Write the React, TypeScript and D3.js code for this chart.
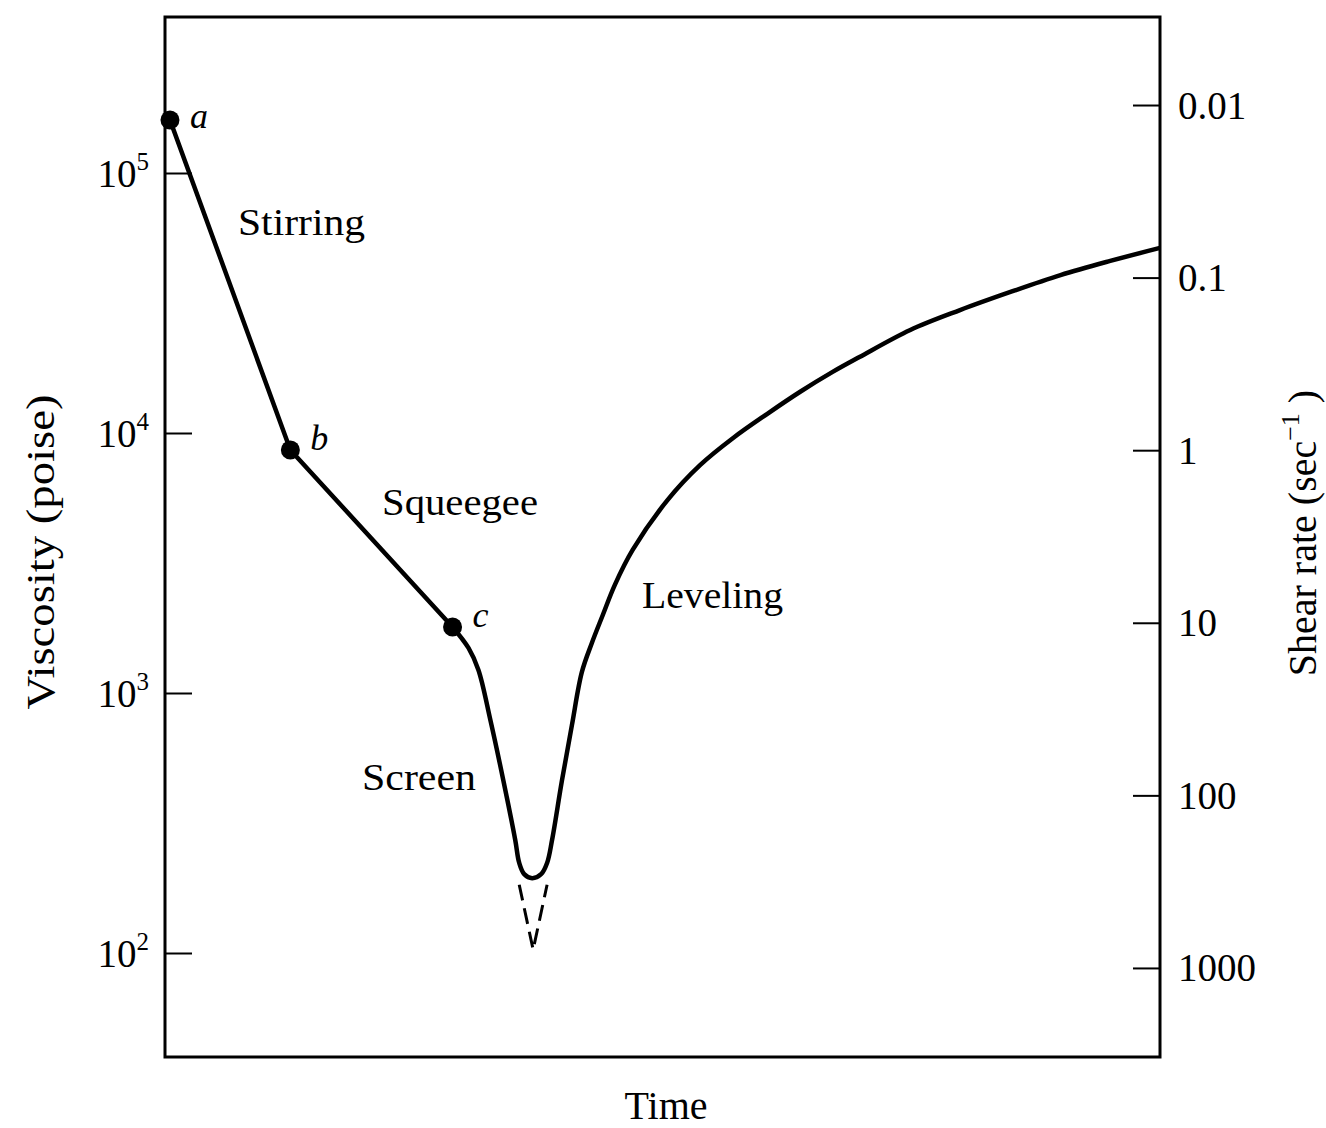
import React, { useEffect, useRef } from 'react';
import * as d3 from 'd3';

// viscosity curve (time in arbitrary units 0-100, viscosity in poise)
const curveTime = [
  0.5, 12.6, 28.9, 30.5, 31.5, 32.7, 34.0, 35.2, 35.6, 36.1, 36.9, 37.8, 38.4, 38.9, 39.9, 40.9,
  41.9, 42.9, 44.0, 45.2, 47.0, 50.5, 53.8, 57.1, 60.5, 63.8, 67.1, 69.8, 74.9, 79.9, 84.9, 90.0,
  95.0, 100,
];
const curveViscosity = [
  160000, 8600, 1795, 1490, 1226, 787, 462, 272, 222, 201, 194, 201, 222, 272, 462, 754, 1205, 1557,
  1995, 2600, 3550, 5520, 7540, 9570, 11830, 14380, 17180, 19600, 24900, 29700, 34800, 40500, 45900,
  51500,
];

// marked points a, b, c (indices into the curve)
const pointNames = ['a', 'b', 'c'];
const pointIndex = [0, 1, 2];

// dashed extension below the minimum
const dashTime = [35.6, 37.0, 38.4];
const dashViscosity = [183, 103, 183];

// axis ticks
const viscosityTicks = [100, 1000, 10000, 100000];
const viscosityExp = ['2', '3', '4', '5'];
const shearTicks = [0.01, 0.1, 1, 10, 100, 1000];
const shearLabels = ['0.01', '0.1', '1', '10', '100', '1000'];

const App = () => {
  const svgRef = useRef(null);

  useEffect(() => {
    const svg = d3.select(svgRef.current);
    svg.selectAll('*').remove();
    const width = 1326;
    const height = 1128;
    const left = 165;
    const right = 1160;
    const top = 17;
    const bottom = 1057;
    const font = '"Liberation Serif", "Times New Roman", serif';

    svg.attr('width', width).attr('height', height);

    const x = d3.scaleLinear().domain([0, 100]).range([left, right]);
    const y = d3
      .scaleLog()
      .domain([Math.pow(10, 1.6), Math.pow(10, 5.6)])
      .range([bottom, top]);
    const y2 = d3
      .scaleLog()
      .domain([Math.pow(10, -2.51), Math.pow(10, 3.516)])
      .range([top, bottom]);

    // frame
    svg
      .append('rect')
      .attr('x', left)
      .attr('y', top)
      .attr('width', right - left)
      .attr('height', bottom - top)
      .attr('fill', 'none')
      .attr('stroke', '#000')
      .attr('stroke-width', 3);

    // left axis (viscosity)
    const gl = svg
      .append('g')
      .attr('transform', `translate(${left},0)`)
      .call(d3.axisLeft(y).tickValues(viscosityTicks).tickSize(-27).tickPadding(16).tickFormat(() => ''));
    gl.select('.domain').remove();
    gl.selectAll('.tick line').attr('stroke', '#000').attr('stroke-width', 2);
    gl.selectAll('.tick text').each(function (d, i) {
      const t = d3.select(this);
      t.attr('font-family', font).attr('font-size', 39).attr('fill', '#000').attr('dy', 13);
      t.append('tspan').text('10');
      t.append('tspan').attr('font-size', 25).attr('dy', -17).text(viscosityExp[i]);
    });

    // right axis (shear rate)
    const gr = svg
      .append('g')
      .attr('transform', `translate(${right},0)`)
      .call(
        d3
          .axisRight(y2)
          .tickValues(shearTicks)
          .tickSize(-27)
          .tickPadding(18)
          .tickFormat((d, i) => shearLabels[i])
      );
    gr.select('.domain').remove();
    gr.selectAll('.tick line').attr('stroke', '#000').attr('stroke-width', 2);
    gr.selectAll('.tick text')
      .attr('font-family', font)
      .attr('font-size', 39)
      .attr('fill', '#000')
      .attr('dy', 13);

    // viscosity curve: straight stirring and squeegee legs, smooth after c
    const pts = curveTime.map((t, i) => [t, curveViscosity[i]]);
    const lineStraight = d3
      .line()
      .x((d) => x(d[0]))
      .y((d) => y(d[1]));
    const lineSmooth = d3
      .line()
      .x((d) => x(d[0]))
      .y((d) => y(d[1]))
      .curve(d3.curveCatmullRom.alpha(0.5));
    svg
      .append('path')
      .datum(pts.slice(0, 3))
      .attr('d', lineStraight)
      .attr('fill', 'none')
      .attr('stroke', '#000')
      .attr('stroke-width', 4.5)
      .attr('stroke-linejoin', 'round');
    svg
      .append('path')
      .datum(pts.slice(2))
      .attr('d', lineSmooth)
      .attr('fill', 'none')
      .attr('stroke', '#000')
      .attr('stroke-width', 4.5)
      .attr('stroke-linejoin', 'round');

    // dashed extension
    svg
      .append('path')
      .datum(dashTime.map((t, i) => [t, dashViscosity[i]]))
      .attr('d', lineStraight)
      .attr('fill', 'none')
      .attr('stroke', '#000')
      .attr('stroke-width', 3)
      .attr('stroke-dasharray', '16 8');

    // points a, b, c
    const g = svg.append('g');
    g.selectAll('circle')
      .data(pointIndex)
      .enter()
      .append('circle')
      .attr('cx', (d) => x(curveTime[d]))
      .attr('cy', (d) => y(curveViscosity[d]))
      .attr('r', 9.5)
      .attr('fill', '#000');
    g.selectAll('text')
      .data(pointIndex)
      .enter()
      .append('text')
      .attr('x', (d) => x(curveTime[d]) + 20)
      .attr('y', (d, i) => y(curveViscosity[d]) + (i === 0 ? 8 : 0))
      .attr('font-family', font)
      .attr('font-style', 'italic')
      .attr('font-size', 36)
      .text((d, i) => pointNames[i]);

    // phase labels
    const phases = [
      { text: 'Stirring', x: 238, y: 235, w: 127 },
      { text: 'Squeegee', x: 382, y: 515, w: 156 },
      { text: 'Screen', x: 362, y: 790, w: 114 },
      { text: 'Leveling', x: 642, y: 608, w: 141 },
    ];
    svg
      .append('g')
      .selectAll('text')
      .data(phases)
      .enter()
      .append('text')
      .attr('x', (d) => d.x)
      .attr('y', (d) => d.y)
      .attr('textLength', (d) => d.w)
      .attr('lengthAdjust', 'spacingAndGlyphs')
      .attr('font-family', font)
      .attr('font-size', 38)
      .text((d) => d.text);

    // axis titles
    svg
      .append('text')
      .attr('x', 666)
      .attr('y', 1119)
      .attr('text-anchor', 'middle')
      .attr('font-family', font)
      .attr('font-size', 40)
      .text('Time');

    svg
      .append('text')
      .attr('transform', 'translate(40,552) rotate(-90)')
      .attr('text-anchor', 'middle')
      .attr('dominant-baseline', 'central')
      .attr('textLength', 315)
      .attr('lengthAdjust', 'spacingAndGlyphs')
      .attr('font-family', font)
      .attr('font-size', 40)
      .text('Viscosity (poise)');

    const rt = svg
      .append('text')
      .attr('transform', 'translate(1316,533) rotate(-90)')
      .attr('text-anchor', 'middle')
      .attr('font-family', font)
      .attr('font-size', 40);
    rt.append('tspan').text('Shear rate (sec');
    rt.append('tspan').attr('font-size', 26).attr('dy', -17).text('−1');
    rt.append('tspan').attr('dy', 17).text(' )');
  }, []);

  return <svg ref={svgRef} style={{ position: 'absolute', left: 0, top: 0 }}></svg>;
};

export default App;
